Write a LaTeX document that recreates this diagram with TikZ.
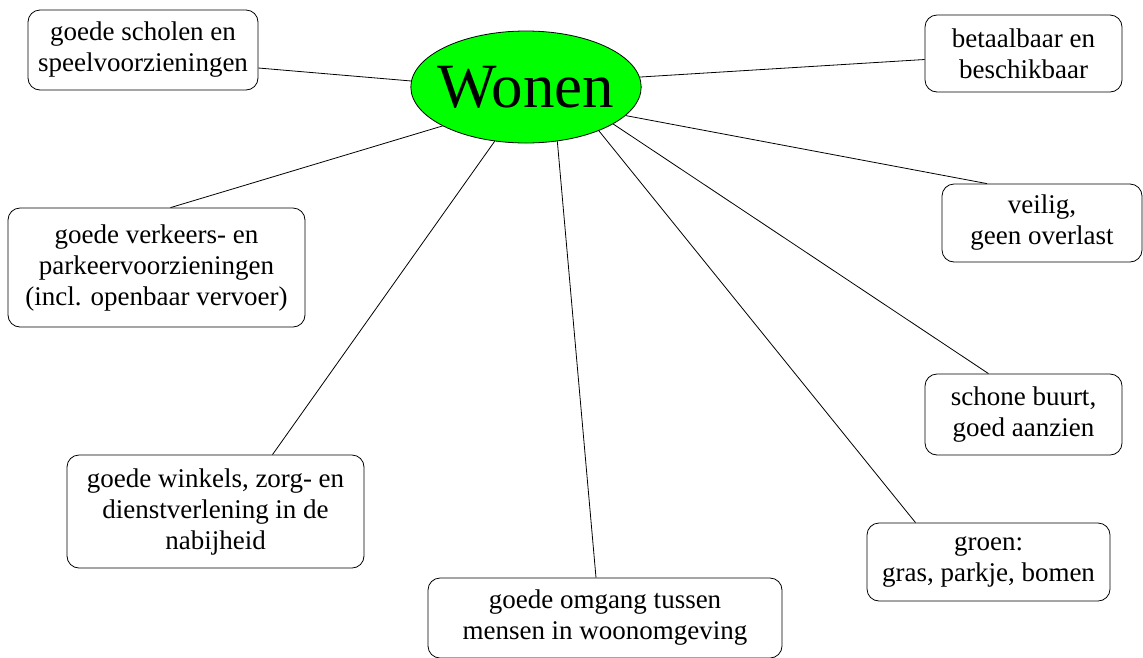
\documentclass[tikz,border=0pt]{standalone}
\usepackage{fontspec}
\setmainfont{Liberation Serif}
\usetikzlibrary{shapes.geometric}
\definecolor{wongreen}{RGB}{0,255,0}

\begin{document}
\begin{tikzpicture}[x=1pt,y=-1pt]
	\tikzstyle{topic} = [ellipse,draw=black,fill=wongreen,line width=0.8pt,minimum width=230pt,minimum height=112pt,inner xsep=-7pt,inner ysep=0pt,font=\fontsize{63}{63}\selectfont]
	\tikzstyle{aspect} = [rectangle,rounded corners=12pt,draw=black,line width=0.8pt,align=center,inner sep=0pt,font=\fontsize{27}{31}\selectfont]
	\tikzstyle{link} = [line width=0.8pt]
	\useasboundingbox (0,0) rectangle (1143,657);
	% centre
	\node[topic] (wonen) at (526, 87) {Wonen};
	% left column
	\node[aspect,minimum width=230pt,minimum height=80pt] (scholen) at (143, 50) {goede scholen en\\speelvoorzieningen};
	\node[aspect,minimum width=297pt,minimum height=119pt] (verkeer) at (156.5, 267.5) {goede verkeers- en\\parkeervoorzieningen\\(incl. openbaar vervoer)};
	\node[aspect,minimum width=297pt,minimum height=113pt] (winkels) at (215.5, 511.5) {goede winkels, zorg- en\\dienstverlening in de\\nabijheid};
	% bottom
	\node[aspect,minimum width=354pt,minimum height=80pt] (omgang) at (605, 618) {goede omgang tussen\\mensen in woonomgeving};
	% right column
	\node[aspect,minimum width=197pt,minimum height=77pt] (betaal) at (1023.5, 53.5) {betaalbaar en\\beschikbaar};
	\node[aspect,minimum width=200pt,minimum height=78pt] (veilig) at (1042, 223) {veilig,\\geen overlast};
	\node[aspect,minimum width=197pt,minimum height=81pt] (schoon) at (1023.5, 414.5) {schone buurt,\\goed aanzien};
	\node[aspect,minimum width=243pt,minimum height=78pt] (groen) at (988.5, 562) {groen:\\gras, parkje, bomen};
	% connections
	\draw[link] ([yshift=-18pt]scholen.east) -- (wonen.177);
	\draw[link] ([xshift=14pt]verkeer.north) -- (wonen.205);
	\draw[link] ([xshift=57pt]winkels.north) -- (wonen.240);
	\draw[link] ([xshift=-9pt]omgang.north) -- (wonen.300);
	\draw[link] ([yshift=-6pt]betaal.west) -- (wonen.5);
	\draw[link] ([xshift=-55pt]veilig.north) -- (wonen.344);
	\draw[link] ([xshift=-35pt]schoon.north) -- (wonen.337);
	\draw[link] ([xshift=-73pt]groen.north) -- (wonen.329);
\end{tikzpicture}
\end{document}
